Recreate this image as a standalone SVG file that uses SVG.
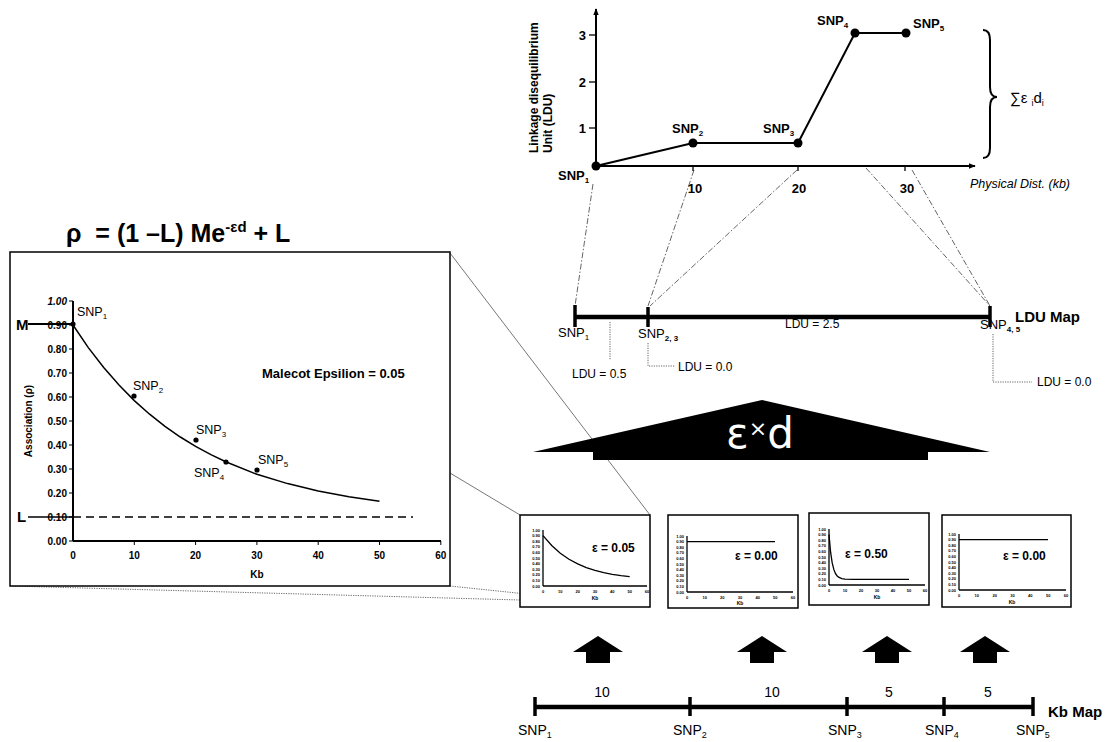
<svg xmlns="http://www.w3.org/2000/svg" width="1109" height="742" viewBox="0 0 1109 742">
<style>
text{font-family:"Liberation Sans",Arial,sans-serif;fill:#000}
.b{font-weight:bold}
.ax{stroke:#000;stroke-width:2;fill:none}
.ln{stroke:#000;stroke-width:1.3;fill:none}
.thk{stroke:#000;stroke-width:4.5;fill:none}
.tk{stroke:#000;stroke-width:3.5}
.dd{stroke:#666;stroke-width:1;stroke-dasharray:6 2 1.5 2;fill:none}
.dt{stroke:#666;stroke-width:1;stroke-dasharray:1.2 1.2;fill:none}
.pj{stroke:#777;stroke-width:1;fill:none}
.box{fill:#fff;stroke:#000;stroke-width:1.5}
.sm{font-size:4px;font-weight:bold}
.eps{font-size:12px;font-weight:bold}
.arr{fill:#000}
</style>
<defs>
<marker id="ah" viewBox="0 0 10 10" refX="9" refY="5" markerWidth="7" markerHeight="7" orient="auto" markerUnits="userSpaceOnUse">
<path d="M0,1 L10,5 L0,9 Z" fill="#000"/>
</marker>
</defs>

<!-- projection / connector lines -->
<g id="connectors">
<line class="dd" x1="593" y1="184" x2="575" y2="306"/>
<line class="dd" x1="694" y1="170" x2="648" y2="306"/>
<line class="dd" x1="797" y1="170" x2="650" y2="306"/>
<line class="dd" x1="866" y1="168" x2="990" y2="306"/>
<line class="dd" x1="912" y1="170" x2="990" y2="306"/>
<line class="pj" x1="450" y1="253" x2="650" y2="515"/>
<line class="pj" x1="450" y1="473" x2="520" y2="515"/>
<line class="dt" x1="450" y1="586" x2="650" y2="607"/>
<line class="dt" x1="10" y1="586" x2="520" y2="600"/>
<polyline class="dt" points="610,322 610,360"/>
<polyline class="dt" points="648,343 648,366 675,366"/>
<polyline class="dt" points="993,334 993,382 1032,382"/>
</g>

<!-- top LDU chart -->
<g id="ldu-chart">
<line class="ax" x1="596" y1="166" x2="596" y2="9" marker-end="url(#ah)"/>
<line class="ax" x1="596" y1="166" x2="975" y2="166" marker-end="url(#ah)"/>
<line class="ln" x1="589" y1="35" x2="596" y2="35"/>
<line class="ln" x1="589" y1="82" x2="596" y2="82"/>
<line class="ln" x1="589" y1="128" x2="596" y2="128"/>
<line class="ln" x1="693" y1="166" x2="693" y2="171"/>
<line class="ln" x1="798" y1="166" x2="798" y2="171"/>
<line class="ln" x1="905" y1="166" x2="905" y2="171"/>
<text class="b" font-size="13" x="586" y="40" text-anchor="end">3</text>
<text class="b" font-size="13" x="586" y="87" text-anchor="end">2</text>
<text class="b" font-size="13" x="586" y="133" text-anchor="end">1</text>
<text class="b" font-size="13" x="695" y="193" text-anchor="middle">10</text>
<text class="b" font-size="13" x="799" y="193" text-anchor="middle">20</text>
<text class="b" font-size="13" x="907" y="193" text-anchor="middle">30</text>
<text class="b" font-size="12" transform="translate(538,153) rotate(-90)">Linkage disequilibrium</text>
<text class="b" font-size="12" transform="translate(552,153) rotate(-90)">Unit (LDU)</text>
<polyline points="596,166 693,143 798,143 855,33 906,33" fill="none" stroke="#000" stroke-width="2"/>
<circle cx="596" cy="166" r="4.5"/>
<circle cx="693" cy="143" r="4.5"/>
<circle cx="798" cy="143" r="4.5"/>
<circle cx="855" cy="33" r="4.5"/>
<circle cx="906" cy="33" r="4.5"/>
<text class="b" font-size="13" x="558" y="180">SNP<tspan font-size="8" dy="3">1</tspan></text>
<text class="b" font-size="13" x="672" y="133">SNP<tspan font-size="8" dy="3">2</tspan></text>
<text class="b" font-size="13" x="763" y="133">SNP<tspan font-size="8" dy="3">3</tspan></text>
<text class="b" font-size="13" x="817" y="25">SNP<tspan font-size="8" dy="3">4</tspan></text>
<text class="b" font-size="13" x="913" y="28">SNP<tspan font-size="8" dy="3">5</tspan></text>
<text font-size="12.5" font-style="italic" x="970" y="188">Physical Dist. (kb)</text>
<path d="M983,30 Q990,30 990,40 L990,87 Q990,97 997,97 Q990,97 990,107 L990,148 Q990,158 983,158" fill="none" stroke="#000" stroke-width="2"/>
<text font-size="15" x="1010" y="103">∑ε<tspan font-size="9" dx="4" dy="3">i</tspan><tspan font-size="15" dy="-3">d</tspan><tspan font-size="9" dy="3">i</tspan></text>
</g>

<!-- LDU map -->
<g id="ldu-map">
<line class="thk" x1="574" y1="317" x2="990" y2="317"/>
<line class="tk" x1="575" y1="305" x2="575" y2="327"/>
<line class="tk" x1="648" y1="307" x2="648" y2="327"/>
<line class="tk" x1="990" y1="306" x2="990" y2="327"/>
<text font-size="13" x="558" y="337">SNP<tspan font-size="8" dy="3">1</tspan></text>
<text font-size="13" x="638" y="338">SNP<tspan font-size="8" dy="3" class="b">2, 3</tspan></text>
<text font-size="13" x="980" y="329">SNP<tspan font-size="8" dy="3" class="b">4, 5</tspan></text>
<text font-size="12" x="785" y="328">LDU = 2.5</text>
<text font-size="12" x="572" y="378">LDU = 0.5</text>
<text font-size="12" x="678" y="371">LDU = 0.0</text>
<text font-size="12" x="1037" y="386">LDU = 0.0</text>
<text class="b" font-size="15" x="1015" y="322">LDU Map</text>
</g>

<!-- formula -->
<g id="formula">
<text class="b" font-size="25" x="66" y="242" xml:space="preserve">ρ  = (1 –L) Me<tspan font-size="15" dy="-10">-εd</tspan><tspan dy="10"> + L</tspan></text>
</g>

<!-- big Malecot chart -->
<g id="malecot-chart">
<rect class="box" x="10" y="252" width="440" height="334"/>
<line class="ax" x1="73" y1="301" x2="73" y2="541" stroke-width="1.5"/>
<line class="ax" x1="73" y1="541" x2="441" y2="541" stroke-width="1.5"/>
<g stroke="#000" stroke-width="1">
<line x1="69" y1="301" x2="73" y2="301"/><line x1="69" y1="325" x2="73" y2="325"/><line x1="69" y1="349" x2="73" y2="349"/><line x1="69" y1="373" x2="73" y2="373"/><line x1="69" y1="397" x2="73" y2="397"/><line x1="69" y1="421" x2="73" y2="421"/><line x1="69" y1="445" x2="73" y2="445"/><line x1="69" y1="469" x2="73" y2="469"/><line x1="69" y1="493" x2="73" y2="493"/><line x1="69" y1="517" x2="73" y2="517"/><line x1="69" y1="541" x2="73" y2="541"/>
<line x1="134.3" y1="541" x2="134.3" y2="545"/><line x1="195.6" y1="541" x2="195.6" y2="545"/><line x1="256.9" y1="541" x2="256.9" y2="545"/><line x1="318.2" y1="541" x2="318.2" y2="545"/><line x1="379.5" y1="541" x2="379.5" y2="545"/><line x1="440.8" y1="541" x2="440.8" y2="545"/>
</g>
<g class="b" font-size="10" text-anchor="end">
<text x="67" y="305" font-style="italic">1.00</text><text x="67" y="329">0.90</text><text x="67" y="353">0.80</text><text x="67" y="377">0.70</text><text x="67" y="401">0.60</text><text x="67" y="425">0.50</text><text x="67" y="449">0.40</text><text x="67" y="473">0.30</text><text x="67" y="497">0.20</text><text x="67" y="521">0.10</text><text x="67" y="545">0.00</text>
</g>
<g class="b" font-size="10" text-anchor="middle">
<text x="73" y="559">0</text><text x="134.3" y="559">10</text><text x="195.6" y="559">20</text><text x="256.9" y="559">30</text><text x="318.2" y="559">40</text><text x="379.5" y="559">50</text><text x="440.8" y="559">60</text>
</g>
<text class="b" font-size="10" x="257" y="578" text-anchor="middle">Kb</text>
<text class="b" font-size="10" transform="translate(32,421) rotate(-90)" text-anchor="middle">Association (ρ)</text>
<line x1="28" y1="324" x2="73" y2="324" stroke="#000" stroke-width="2"/>
<line x1="28" y1="517" x2="73" y2="517" stroke="#000" stroke-width="1.5"/>
<line x1="73" y1="517" x2="413" y2="517" stroke="#000" stroke-width="1.5" stroke-dasharray="8 5"/>
<text class="b" font-size="15" x="16" y="330">M</text>
<text class="b" font-size="15" x="17" y="522">L</text>
<polyline fill="none" stroke="#000" stroke-width="1.5" points="73,325 88.3,347.6 103.7,367.5 119,385 134.3,400.6 149.6,414.2 165,426.3 180.3,437 195.6,446.4 210.9,454.7 226.3,462 256.9,474.3 287.6,483.6 318.2,491.1 348.9,496.8 379.5,501.2"/>
<circle cx="73" cy="324" r="2.6"/>
<circle cx="134" cy="396" r="2.6"/>
<circle cx="196" cy="440" r="2.6"/>
<circle cx="226" cy="462" r="2.6"/>
<circle cx="257" cy="470" r="2.6"/>
<text font-size="12.5" x="77" y="316">SNP<tspan font-size="8" dy="3">1</tspan></text>
<text font-size="12.5" x="133" y="390">SNP<tspan font-size="8" dy="3">2</tspan></text>
<text font-size="12.5" x="196" y="434">SNP<tspan font-size="8" dy="3">3</tspan></text>
<text font-size="12.5" x="194" y="477">SNP<tspan font-size="8" dy="3">4</tspan></text>
<text font-size="12.5" x="258" y="464">SNP<tspan font-size="8" dy="3">5</tspan></text>
<text class="b" font-size="13" x="262" y="378">Malecot Epsilion = 0.05</text>
</g>

<!-- epsilon x d big arrow -->
<g id="exd-arrow">
<path d="M533,452 L762,400 L990,452 L928,452 L928,460 L593,460 L593,452 Z" fill="#000"/>
<text x="760" y="448" text-anchor="middle" font-size="42" style="font-family:'DejaVu Sans',sans-serif;fill:#fff">ε<tspan font-size="22" dy="-12">×</tspan><tspan dy="12">d</tspan></text>
</g>

<!-- small charts -->
<g id="chart-eps-005">
<rect class="box" x="520" y="515" width="130" height="92" stroke-width="1.3"/>
<line class="ln" x1="543" y1="530" x2="543" y2="586"/>
<line class="ln" x1="543" y1="586" x2="647" y2="586"/>
<g class="sm" text-anchor="end"><text x="540" y="531.5">1.00</text><text x="540" y="537">0.90</text><text x="540" y="542.7">0.80</text><text x="540" y="548.3">0.70</text><text x="540" y="553.9">0.60</text><text x="540" y="559.5">0.50</text><text x="540" y="565.1">0.40</text><text x="540" y="570.7">0.30</text><text x="540" y="576.3">0.20</text><text x="540" y="581.9">0.10</text><text x="540" y="587.5">0.00</text></g>
<g class="sm" text-anchor="middle"><text x="543" y="593">0</text><text x="560.3" y="593">10</text><text x="577.7" y="593">20</text><text x="595" y="593">30</text><text x="612.3" y="593">40</text><text x="629.7" y="593">50</text><text x="647" y="593">60</text></g>
<text class="b" font-size="5" x="595" y="600" text-anchor="middle">Kb</text>
<polyline class="ln" points="543,535.6 551.7,545.5 560.3,553.2 569,559.2 577.7,563.9 586.3,567.6 595,570.4 603.7,572.6 612.3,574.4 621,575.7 629.7,576.7"/>
<text class="eps" x="592" y="552">ε = 0.05</text>
</g>

<g id="chart-eps-000-a">
<rect class="box" x="668" y="515" width="130" height="93" stroke-width="1.3"/>
<line class="ln" x1="687" y1="536" x2="687" y2="592"/>
<line class="ln" x1="687" y1="592" x2="793" y2="592"/>
<g class="sm" text-anchor="end"><text x="684" y="537.5">1.00</text><text x="684" y="543.1">0.90</text><text x="684" y="548.7">0.80</text><text x="684" y="554.3">0.70</text><text x="684" y="559.9">0.60</text><text x="684" y="565.5">0.50</text><text x="684" y="571.1">0.40</text><text x="684" y="576.7">0.30</text><text x="684" y="582.3">0.20</text><text x="684" y="587.9">0.10</text><text x="684" y="593.5">0.00</text></g>
<g class="sm" text-anchor="middle"><text x="687" y="598.5">0</text><text x="704.7" y="598.5">10</text><text x="722.3" y="598.5">20</text><text x="740" y="598.5">30</text><text x="757.7" y="598.5">40</text><text x="775.3" y="598.5">50</text><text x="793" y="598.5">60</text></g>
<text class="b" font-size="5" x="740" y="605" text-anchor="middle">Kb</text>
<line class="ln" x1="687" y1="541.6" x2="775" y2="541.6"/>
<text class="eps" x="735" y="560">ε = 0.00</text>
</g>

<g id="chart-eps-050">
<rect class="box" x="809" y="513" width="120" height="92" stroke-width="1.3"/>
<line class="ln" x1="829" y1="529" x2="829" y2="585"/>
<line class="ln" x1="829" y1="585" x2="925" y2="585"/>
<g class="sm" text-anchor="end"><text x="826" y="530.5">1.00</text><text x="826" y="536.1">0.90</text><text x="826" y="541.7">0.80</text><text x="826" y="547.3">0.70</text><text x="826" y="552.9">0.60</text><text x="826" y="558.5">0.50</text><text x="826" y="564.1">0.40</text><text x="826" y="569.7">0.30</text><text x="826" y="575.3">0.20</text><text x="826" y="580.9">0.10</text><text x="826" y="586.5">0.00</text></g>
<g class="sm" text-anchor="middle"><text x="829" y="592">0</text><text x="845" y="592">10</text><text x="861" y="592">20</text><text x="877" y="592">30</text><text x="893" y="592">40</text><text x="909" y="592">50</text><text x="925" y="592">60</text></g>
<text class="b" font-size="5" x="877" y="599" text-anchor="middle">Kb</text>
<polyline class="ln" points="829,534.6 830.6,552.2 832.2,562.9 833.8,569.4 835.4,573.4 837,575.7 838.6,577.2 841.8,578.6 845,579.1 853,579.4 909,579.4"/>
<text class="eps" x="845" y="558">ε = 0.50</text>
</g>

<g id="chart-eps-000-b">
<rect class="box" x="942" y="515" width="129" height="92" stroke-width="1.3"/>
<line class="ln" x1="959" y1="534" x2="959" y2="590"/>
<line class="ln" x1="959" y1="590" x2="1066" y2="590"/>
<g class="sm" text-anchor="end"><text x="956" y="535.5">1.00</text><text x="956" y="541.1">0.90</text><text x="956" y="546.7">0.80</text><text x="956" y="552.3">0.70</text><text x="956" y="557.9">0.60</text><text x="956" y="563.5">0.50</text><text x="956" y="569.1">0.40</text><text x="956" y="574.7">0.30</text><text x="956" y="580.3">0.20</text><text x="956" y="585.9">0.10</text><text x="956" y="591.5">0.00</text></g>
<g class="sm" text-anchor="middle"><text x="959" y="597">0</text><text x="976.8" y="597">10</text><text x="994.7" y="597">20</text><text x="1012.5" y="597">30</text><text x="1030.3" y="597">40</text><text x="1048.2" y="597">50</text><text x="1066" y="597">60</text></g>
<text class="b" font-size="5" x="1012" y="604" text-anchor="middle">Kb</text>
<line class="ln" x1="959" y1="539.6" x2="1048" y2="539.6"/>
<text class="eps" x="1003" y="560">ε = 0.00</text>
</g>

<!-- up arrows -->
<g id="up-arrows">
<path class="arr" d="M598,636 L623,652 L610,652 L610,663 L586,663 L586,652 L573,652 Z"/>
<path class="arr" d="M762,636 L787,652 L774,652 L774,663 L750,663 L750,652 L737,652 Z"/>
<path class="arr" d="M887,636 L912,652 L899,652 L899,663 L875,663 L875,652 L862,652 Z"/>
<path class="arr" d="M985,636 L1010,652 L997,652 L997,663 L973,663 L973,652 L960,652 Z"/>
</g>

<!-- Kb map -->
<g id="kb-map">
<line class="thk" x1="535" y1="707" x2="1033" y2="707" stroke-width="4"/>
<line class="tk" x1="535" y1="697" x2="535" y2="716"/>
<line class="tk" x1="690" y1="697" x2="690" y2="716"/>
<line class="tk" x1="847" y1="697" x2="847" y2="716"/>
<line class="tk" x1="944" y1="697" x2="944" y2="716"/>
<line class="tk" x1="1033" y1="697" x2="1033" y2="716"/>
<text font-size="14" x="602" y="697" text-anchor="middle">10</text>
<text font-size="14" x="772" y="697" text-anchor="middle">10</text>
<text font-size="14" x="889" y="697" text-anchor="middle">5</text>
<text font-size="14" x="988" y="697" text-anchor="middle">5</text>
<text font-size="14" x="518" y="735">SNP<tspan font-size="9" dy="3">1</tspan></text>
<text font-size="14" x="673" y="735">SNP<tspan font-size="9" dy="3">2</tspan></text>
<text font-size="14" x="828" y="735">SNP<tspan font-size="9" dy="3">3</tspan></text>
<text font-size="14" x="925" y="735">SNP<tspan font-size="9" dy="3">4</tspan></text>
<text font-size="14" x="1016" y="735">SNP<tspan font-size="9" dy="3">5</tspan></text>
<text class="b" font-size="15" x="1048" y="717">Kb Map</text>
</g>
</svg>
